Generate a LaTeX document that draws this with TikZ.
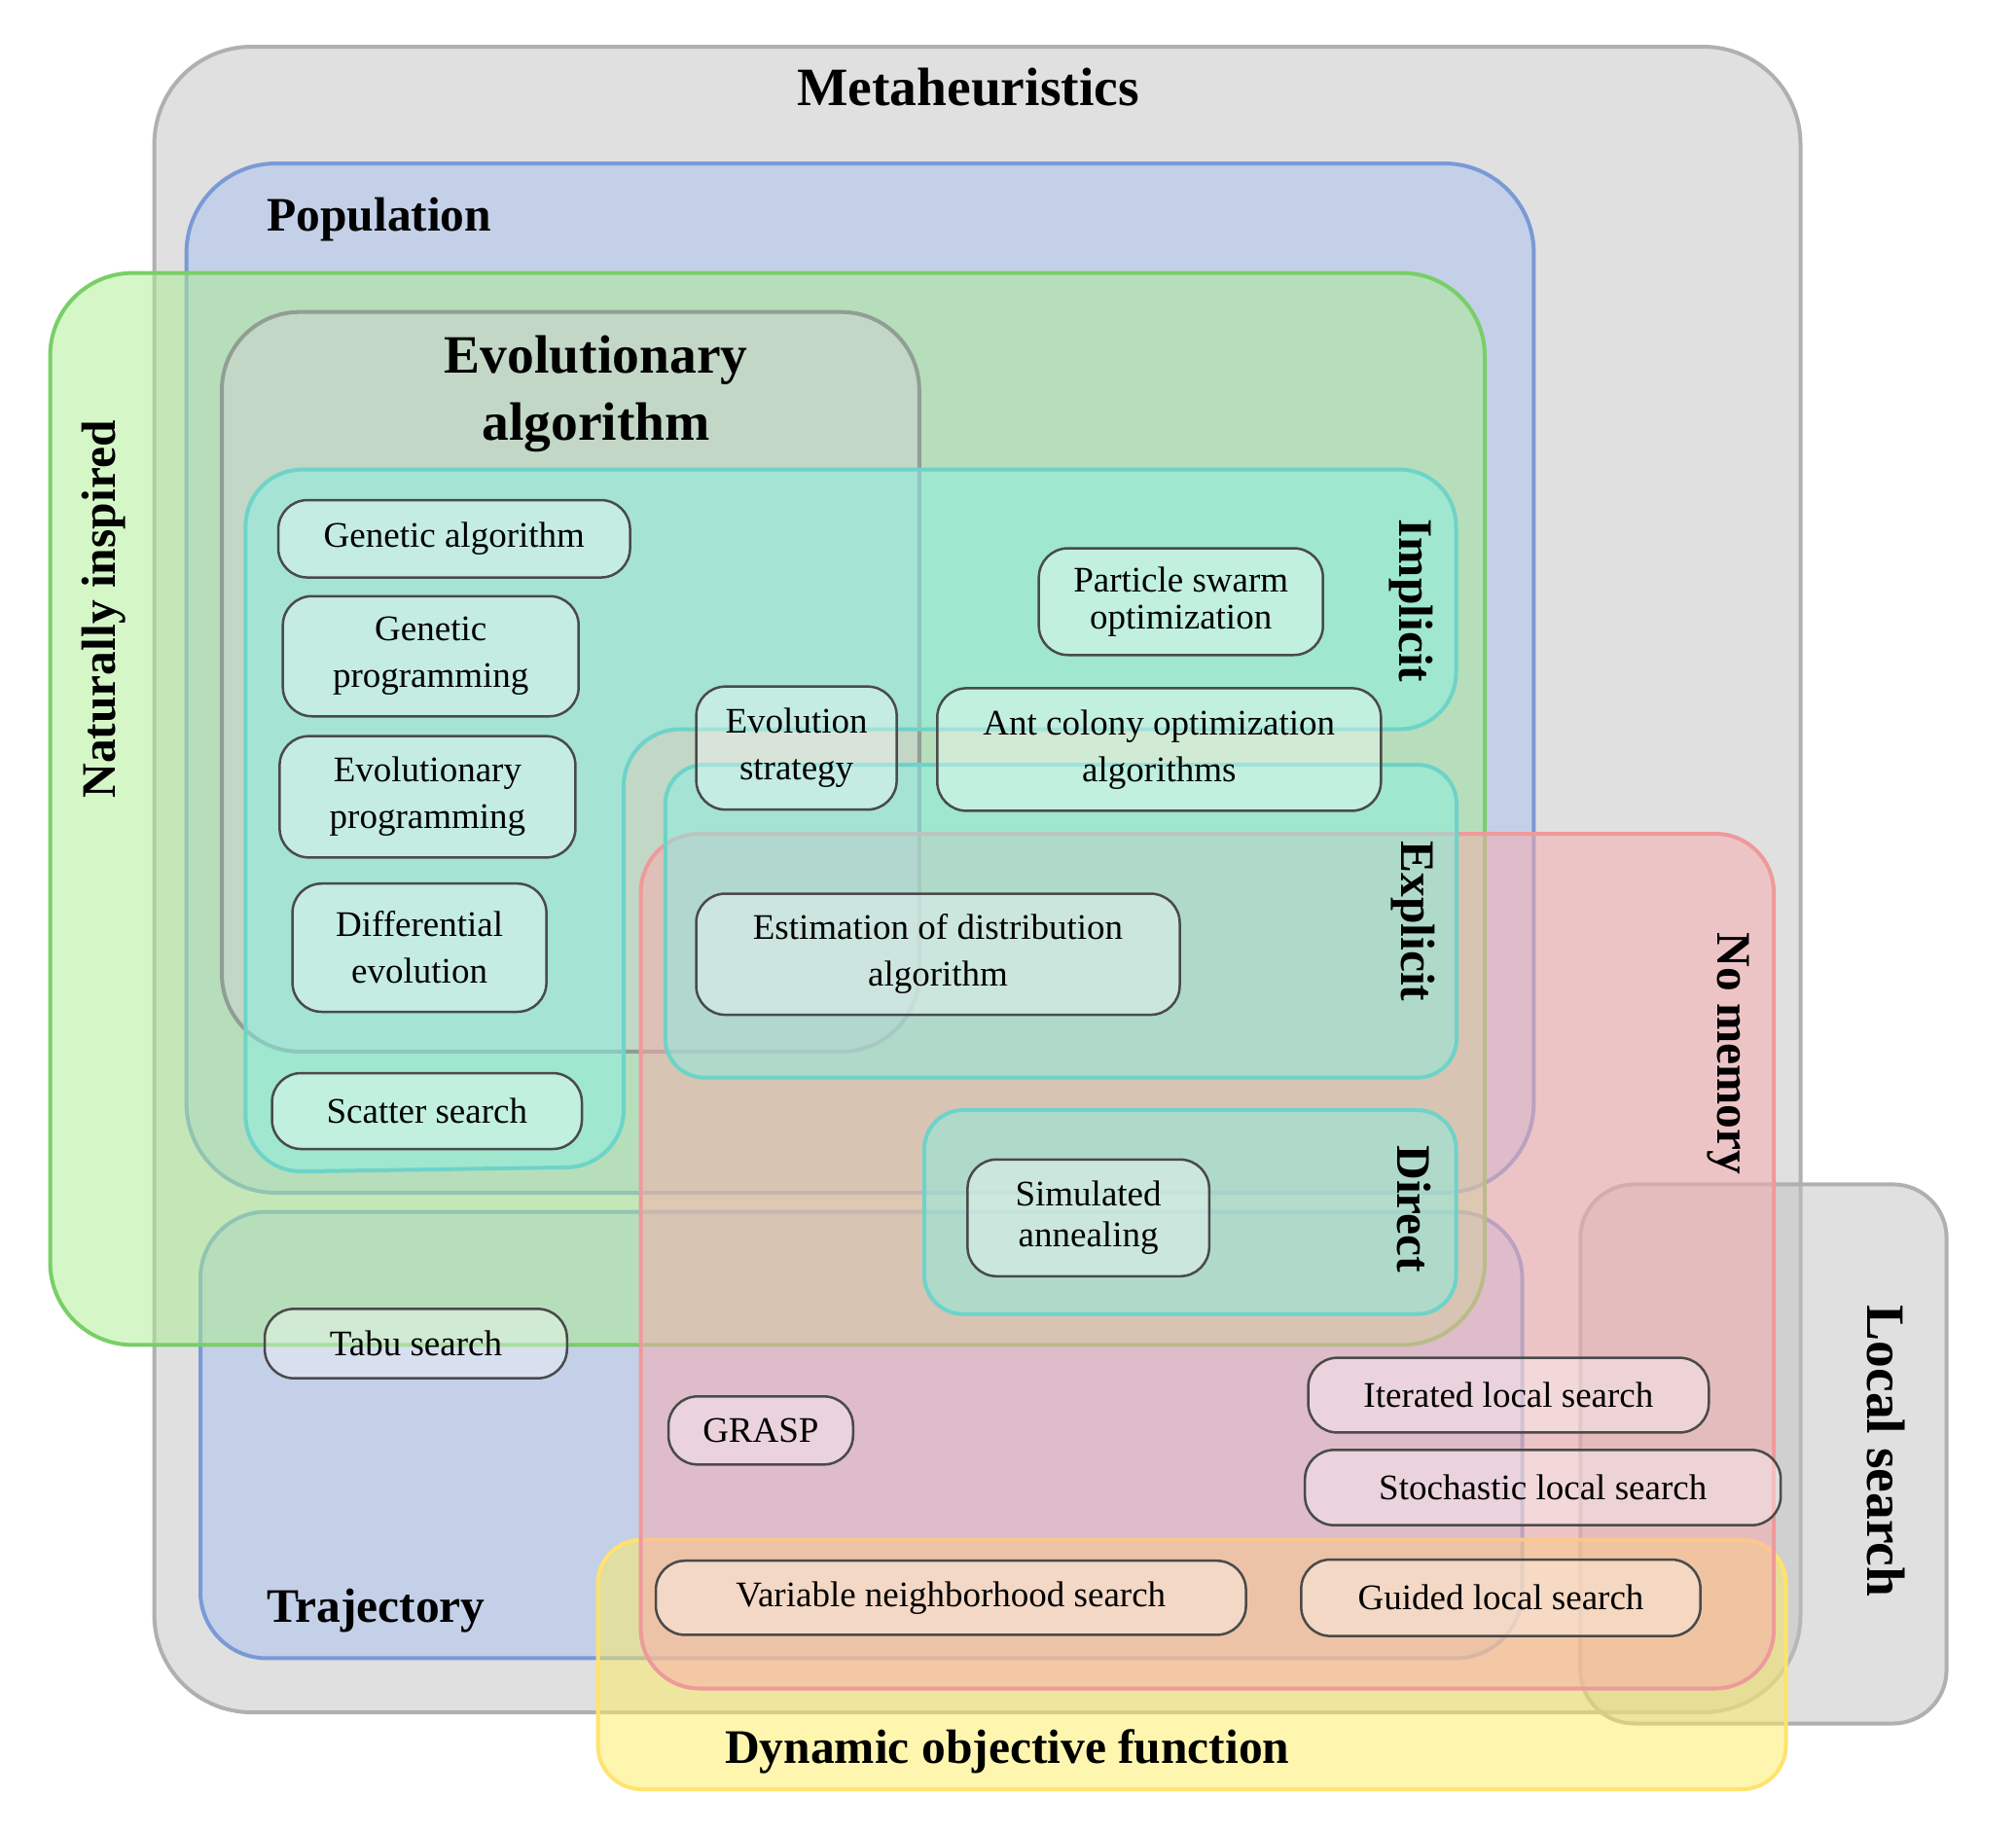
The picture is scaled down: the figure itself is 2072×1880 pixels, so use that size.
\documentclass[tikz,border=0pt]{standalone}
\usepackage{fontspec}
\setmainfont{Liberation Serif}
\definecolor{metaF}{HTML}{C1C1C1}
\definecolor{metaD}{HTML}{B0B0B0}
\definecolor{popF}{HTML}{AAC0F0}
\definecolor{popD}{HTML}{7A9AD6}
\definecolor{natF}{HTML}{ABEF91}
\definecolor{natD}{HTML}{78CF67}
\definecolor{eaF}{HTML}{D0D0D0}
\definecolor{eaD}{HTML}{919E94}
\definecolor{tealF}{HTML}{88F1E4}
\definecolor{tealD}{HTML}{6ED3C8}
\definecolor{redF}{HTML}{FAAAAC}
\definecolor{redD}{HTML}{EE9A9B}
\definecolor{yelF}{HTML}{FDED5F}
\definecolor{yelD}{HTML}{FFE36E}
\definecolor{ndD}{HTML}{4A4A4A}
\newcommand{\ttlfont}{\fontsize{55.5}{69}\selectfont\bfseries}
\newcommand{\lblfont}{\fontsize{49.5}{60}\selectfont\bfseries}
\newcommand{\ndfont}{\fontsize{37}{48}\selectfont}
\begin{document}
\begin{tikzpicture}[x={(1pt,0pt)},y={(0pt,-1pt)},
  box/.style={line width=4pt, fill opacity=0.5, rounded corners=#1},
  nd/.style={draw=ndD, line width=2.5pt, rounded corners=30pt, fill=white,
    fill opacity=0.35, text opacity=1, align=center, inner sep=0pt, font=\ndfont},
  lbl/.style={font=\lblfont, inner sep=0pt},
  ttl/.style={font=\ttlfont, inner sep=0pt}]
\useasboundingbox (0,0) rectangle (2072,1880);
% containers
\draw[box=100, draw=metaD, fill=metaF] (158.6,48) rectangle (1850.5,1760);
\draw[box=55, draw=metaD, fill=metaF] (1624.3,1217.4) rectangle (2000.6,1771.5);
\draw[box=92, draw=popD, fill=popF] (191.6,168) rectangle (1576.4,1226);
\draw[box=68, draw=popD, fill=popF] (206,1245.5) rectangle (1564.5,1704.4);
\draw[box=85, draw=natD, fill=natF] (51.5,280.6) rectangle (1526,1382.4);
\draw[box=80, draw=eaD, fill=eaF] (228,320.7) rectangle (944.8,1080.9);
\draw[box=58, draw=tealD, fill=tealF] (252.4,482.6) -- (1496.5,482.6) -- (1496.5,749.5)
  -- (641,749.5) -- (641,1199) -- (252.4,1205) -- cycle;
\draw[box=45, draw=yelD, fill=yelF] (614.5,1582.7) rectangle (1835.5,1839);
\draw[box=60, draw=redD, fill=redF] (658.7,857) rectangle (1823,1735.5);
\draw[box=40, draw=tealD, fill=tealF] (683.8,786) rectangle (1497,1107.6);
\draw[box=40, draw=tealD, fill=tealF] (950,1141) rectangle (1496.5,1350.7);
% items
\node[nd, minimum width=361.5pt, minimum height=79.5pt] (ga) at (466.8,553.8) {Genetic algorithm};
\node[nd, minimum width=304pt, minimum height=123.5pt] (gp) at (442.7,674.5) {Genetic\\programming};
\node[nd, minimum width=304pt, minimum height=124.7pt] (ep) at (439.4,819) {Evolutionary\\programming};
\node[nd, minimum width=261pt, minimum height=131.8pt] (de) at (431.1,974.1) {Differential\\evolution};
\node[nd, minimum width=318.5pt, minimum height=78pt] (ss) at (438.8,1142) {Scatter search};
\node[nd, minimum width=206pt, minimum height=126.5pt] (es) at (818.6,768.9) {Evolution\\strategy};
\node[nd, font={\fontsize{37}{37.5}\selectfont}, minimum width=292pt, minimum height=109.7pt] (pso) at (1213.7,618.4) {Particle swarm\\optimization};
\node[nd, minimum width=456pt, minimum height=126pt] (aco) at (1191.3,770.4) {Ant colony optimization\\algorithms};
\node[nd, minimum width=497pt, minimum height=124.5pt] (eda) at (964,980.8) {Estimation of distribution\\algorithm};
\node[nd, font={\fontsize{37}{42}\selectfont}, minimum width=248.4pt, minimum height=120pt] (sa) at (1118.6,1251.8) {Simulated\\annealing};
\node[nd, minimum width=310.7pt, minimum height=71.3pt] (ts) at (427.4,1381) {Tabu search};
\node[nd, minimum width=189.7pt, minimum height=70pt] (grasp) at (781.9,1470.3) {GRASP};
\node[nd, minimum width=411.7pt, minimum height=76.8pt] (ils) at (1550.4,1434) {Iterated local search};
\node[nd, minimum width=489pt, minimum height=77.4pt] (sls) at (1585.7,1529) {Stochastic local search};
\node[nd, minimum width=606.5pt, minimum height=76.2pt] (vns) at (977.3,1642.3) {Variable neighborhood search};
\node[nd, minimum width=410.3pt, minimum height=78.6pt] (gls) at (1542.5,1642.3) {Guided local search};
% labels
\node[ttl, anchor=base] (tmeta) at (995,108) {Metaheuristics};
\node[lbl, anchor=base west] (tpop) at (274,237) {Population};
\node[ttl, anchor=base] (tea1) at (612.7,383.7) {Evolutionary};
\node[ttl, anchor=base] (tea2) at (612.7,452.6) {algorithm};
\node[lbl, rotate=90, anchor=base] (tnat) at (118.6,626.5) {Naturally inspired};
\node[lbl, rotate=-90, anchor=base] (timp) at (1438,617.5) {Implicit};
\node[lbl, rotate=-90, anchor=base] (texp) at (1440,946.8) {Explicit};
\node[lbl, rotate=-90, anchor=base] (tdir) at (1436,1242.8) {Direct};
\node[lbl, rotate=-90, anchor=base] (tnom) at (1765,1082.7) {No memory};
\node[ttl, rotate=-90, anchor=base] (tloc) at (1919,1491.5) {Local search};
\node[lbl, anchor=base west] (ttra) at (274,1667) {Trajectory};
\node[lbl, anchor=base west] (tdyn) at (745,1812) {Dynamic objective function};
\end{tikzpicture}
\end{document}
